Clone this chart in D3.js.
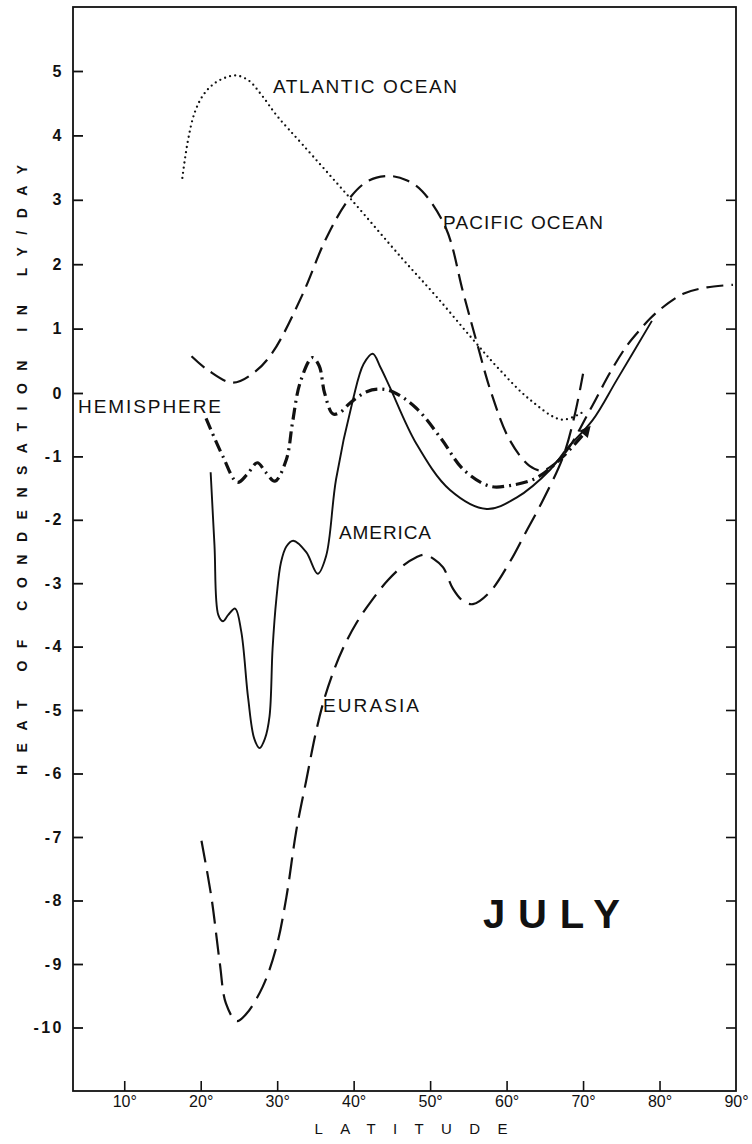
<!DOCTYPE html>
<html><head><meta charset="utf-8">
<script src="https://cdn.jsdelivr.net/npm/d3@7"></script>
<style>
html,body{margin:0;padding:0;background:#fff;}
svg{display:block;}
</style></head>
<body><svg id="chart" width="752" height="1144"></svg>
<script>
// ---- data (latitude in degrees, heat of condensation in ly/day) ----
const atlantic = [[17.6,3.34],[18.3,3.9],[19.2,4.35],[20.3,4.62],[21.7,4.8],[23.3,4.9],[24.7,4.93],[26.3,4.85],[28,4.62],[30,4.3],[33.3,3.86],[39.5,3.03],[46.4,2.08],[50.8,1.5],[55.6,0.83],[59.1,0.36],[63,-0.1],[67.2,-0.42],[70,-0.3]];
const pacific = [[18.8,0.57],[21,0.35],[24.2,0.16],[27,0.32],[29.4,0.63],[33.2,1.5],[36.4,2.4],[39.5,3.03],[42,3.3],[44.7,3.37],[47,3.3],[49,3.13],[52.1,2.55],[54.3,1.57],[56,0.83],[58,0],[60.4,-0.74],[63,-1.15],[64.7,-1.22],[67.4,-0.98],[70.9,-0.27],[73.5,0.31],[75.7,0.73],[77.5,0.99],[78.8,1.16],[80.1,1.3],[83.1,1.54],[86.2,1.64],[89.6,1.68]];
const hemisphere = [[20.7,-0.4],[22.9,-1.0],[24.8,-1.41],[26.1,-1.28],[27.4,-1.1],[28.5,-1.25],[29.7,-1.39],[31.2,-1.05],[32,-0.47],[33,0.16],[34.6,0.55],[35.5,0.42],[36.2,0.0],[37.3,-0.33],[38.3,-0.3],[39.5,-0.16],[41.7,0.02],[43.4,0.06],[45.1,0.02],[48.2,-0.24],[51.5,-0.73],[54.3,-1.2],[57.8,-1.47],[60.4,-1.46],[63.9,-1.34],[67.4,-1.0],[70.9,-0.53]];
const america = [[21.3,-1.25],[21.8,-2.4],[22.3,-3.5],[22.9,-3.6],[23.6,-3.5],[24.5,-3.4],[25.3,-3.76],[26.2,-4.81],[27.0,-5.45],[27.7,-5.6],[28.4,-5.45],[29,-5.1],[29.4,-4.03],[29.9,-3.24],[30.5,-2.67],[31.2,-2.42],[32.1,-2.33],[33.8,-2.51],[35.3,-2.85],[36.4,-2.57],[37.7,-1.36],[39.9,-0.11],[41.3,0.45],[42.5,0.61],[43.5,0.4],[44.7,0.1],[48.2,-0.8],[52.6,-1.53],[57.4,-1.83],[61.3,-1.65],[65.7,-1.21],[67.8,-0.89],[71.3,-0.42],[74.4,0.2],[79,1.12]];
const eurasia = [[20.1,-7.06],[21.4,-7.95],[22.5,-8.99],[23.3,-9.62],[24.7,-9.9],[26,-9.78],[28.1,-9.36],[29.9,-8.73],[31.2,-7.95],[32.5,-6.9],[33.8,-6.11],[35.1,-5.33],[36.2,-4.81],[37.4,-4.38],[38.6,-4.03],[40.4,-3.62],[42.5,-3.25],[44.5,-2.95],[46.5,-2.72],[48.2,-2.59],[49.3,-2.55],[50.5,-2.62],[51.7,-2.75],[53,-3.09],[54.3,-3.28],[55.6,-3.33],[57.8,-3.14],[60.4,-2.67],[62.5,-2.2],[64.8,-1.68],[67.4,-1.0],[68.9,-0.35],[70,0.3]];

const xTicks = [10,20,30,40,50,60,70,80,90];
const xTickLabels = ["10°","20°","30°","40°","50°","60°","70°","80°","90°"];
const yTicks = [5,4,3,2,1,0,-1,-2,-3,-4,-5,-6,-7,-8,-9,-10];
const yTickLabels = ["5","4","3","2","1","0","-1","-2","-3","-4","-5","-6","-7","-8","-9","-10"];
const yTitle = "HEAT OF CONDENSATION IN LY/DAY";
const xTitle = "LATITUDE";
const seriesLabels = ["ATLANTIC OCEAN","PACIFIC OCEAN","HEMISPHERE","AMERICA","EURASIA"];
const monthLabel = "JULY";

// ---- layout ----
const FONT = "'Liberation Sans','DejaVu Sans',Arial,sans-serif";
const svg = d3.select("#chart");
const X0 = 73, X1 = 736, YT = 7, YB = 1091;
const x = d3.scaleLinear().domain([3.3, 90]).range([X0, X1]);
const y = d3.scaleLinear().domain([-11,-10,-5,0,5,6]).range([YB,1027.5,710,393,71,YT]);
const ink = "#111";

// frame
svg.append("rect").attr("x",X0).attr("y",YT).attr("width",X1-X0).attr("height",YB-YT)
  .attr("fill","none").attr("stroke",ink).attr("stroke-width",1.8);

// left axis (ticks inward)
const yAxisL = d3.axisLeft(y).tickValues(yTicks).tickSize(-10)
  .tickFormat((d,i)=>yTickLabels[i]).tickPadding(9);
const gl = svg.append("g").attr("transform",`translate(${X0},0)`).call(yAxisL);
gl.select(".domain").remove();
gl.selectAll(".tick line").attr("stroke",ink).attr("stroke-width",1.8);
gl.selectAll(".tick text").attr("font-size",16).attr("font-weight","bold").attr("fill",ink)
  .attr("font-family",FONT).style("letter-spacing","2.5px");

// right axis ticks (inward)
const yAxisR = d3.axisRight(y).tickValues([3,2,1,0,-1,-2,-3,-4,-5,-6,-7,-8,-9,-10]).tickSize(-10).tickFormat("");
const gr = svg.append("g").attr("transform",`translate(${X1},0)`).call(yAxisR);
gr.select(".domain").remove();
gr.selectAll(".tick line").attr("stroke",ink).attr("stroke-width",1.6);

// bottom axis (ticks inward)
const xAxis = d3.axisBottom(x).tickValues(xTicks).tickSize(-10)
  .tickFormat((d,i)=>xTickLabels[i]).tickPadding(4);
const gb = svg.append("g").attr("transform",`translate(0,${YB})`).call(xAxis);
gb.select(".domain").remove();
gb.selectAll(".tick line").attr("stroke",ink).attr("stroke-width",1.6);
gb.selectAll(".tick text").attr("font-size",16).attr("fill",ink)
  .attr("font-family",FONT).attr("dy","0.75em");
gb.selectAll(".tick").filter(d=>d===90).select("line").remove();

// axis titles
svg.append("text").attr("transform","translate(27,470) rotate(-90)")
  .attr("text-anchor","middle").attr("font-size",14).attr("font-weight","bold")
  .attr("font-family",FONT).attr("fill",ink)
  .attr("textLength",610).attr("lengthAdjust","spacing").text(yTitle);
svg.append("text").attr("x",411).attr("y",1134).attr("text-anchor","middle")
  .attr("font-size",15).attr("font-family",FONT).attr("fill",ink)
  .attr("textLength",193).attr("lengthAdjust","spacing").text(xTitle);

// curves
const line = d3.line().x(d=>x(d[0])).y(d=>y(d[1])).curve(d3.curveCatmullRom.alpha(0.5));

svg.append("defs").append("marker").attr("id","arrow").attr("viewBox","0 0 10 10")
  .attr("refX",9).attr("refY",5).attr("markerWidth",5).attr("markerHeight",3.5)
  .attr("markerUnits","strokeWidth").attr("orient","auto")
  .append("path").attr("d","M0,0 L10,5 L0,10 z").attr("fill",ink);

svg.append("path").datum(atlantic).attr("d",line).attr("fill","none").attr("stroke",ink)
  .attr("stroke-width",2.3).attr("stroke-linecap","round").attr("stroke-dasharray","0,5.2");
svg.append("path").datum(pacific).attr("d",line).attr("fill","none").attr("stroke",ink)
  .attr("stroke-width",2.2).attr("stroke-dasharray","17,8");
svg.append("path").datum(eurasia).attr("d",line).attr("fill","none").attr("stroke",ink)
  .attr("stroke-width",2.2).attr("stroke-dasharray","22,9");
svg.append("path").datum(america).attr("d",line).attr("fill","none").attr("stroke",ink)
  .attr("stroke-width",1.9);
svg.append("path").datum(hemisphere).attr("d",line).attr("fill","none").attr("stroke",ink)
  .attr("stroke-width",3.2).attr("stroke-dasharray","12,5,2,5").attr("marker-end","url(#arrow)");

// series labels
const lab = [
  {t:seriesLabels[0], x:273, y:93, w:184},
  {t:seriesLabels[1], x:443, y:229, w:160},
  {t:seriesLabels[2], x:78,  y:413, w:143},
  {t:seriesLabels[3], x:339, y:539, w:92},
  {t:seriesLabels[4], x:323, y:712, w:96}
];
svg.selectAll("text.lab").data(lab).join("text").attr("class","lab")
  .attr("x",d=>d.x).attr("y",d=>d.y).attr("font-size",19).attr("font-family",FONT).attr("fill",ink)
  .attr("textLength",d=>d.w).attr("lengthAdjust","spacing").text(d=>d.t);

svg.append("text").attr("x",483).attr("y",928).attr("font-size",40).attr("font-weight","bold")
  .attr("font-family",FONT).attr("fill",ink)
  .attr("textLength",137).attr("lengthAdjust","spacing").text(monthLabel);
</script></body></html>
